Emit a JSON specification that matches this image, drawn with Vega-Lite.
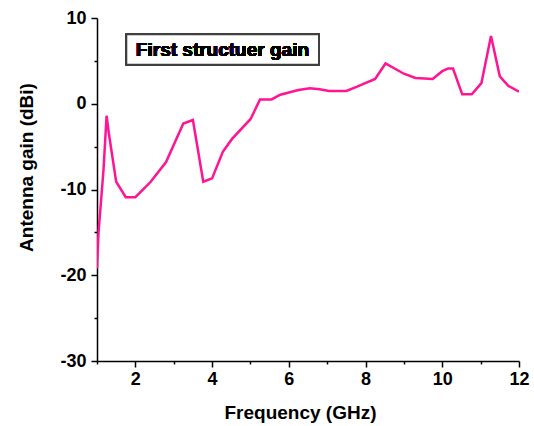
{
  "$schema": "https://vega.github.io/schema/vega-lite/v6.json",
  "width": 422,
  "height": 343,
  "autosize": {"type": "none"},
  "padding": {"left": 97, "top": 18, "right": 15, "bottom": 65},
  "background": "white",
  "config": {"view": {"stroke": null}, "font": "Liberation Sans"},
  "data": {
    "values": [
      {"f": 1.0, "g": -19.2},
      {"f": 1.04, "g": -15.0},
      {"f": 1.17, "g": -7.7},
      {"f": 1.25, "g": -1.4},
      {"f": 1.31, "g": -3.5},
      {"f": 1.5, "g": -9.1},
      {"f": 1.75, "g": -10.9},
      {"f": 2.0, "g": -10.9},
      {"f": 2.4, "g": -9.1},
      {"f": 2.8, "g": -6.8},
      {"f": 3.25, "g": -2.3},
      {"f": 3.5, "g": -1.9},
      {"f": 3.77, "g": -9.1},
      {"f": 4.0, "g": -8.7},
      {"f": 4.28, "g": -5.6},
      {"f": 4.52, "g": -4.1},
      {"f": 5.0, "g": -1.8},
      {"f": 5.25, "g": 0.5},
      {"f": 5.55, "g": 0.5},
      {"f": 5.78, "g": 1.05},
      {"f": 6.25, "g": 1.6},
      {"f": 6.55, "g": 1.8},
      {"f": 6.8, "g": 1.7},
      {"f": 7.05, "g": 1.5},
      {"f": 7.5, "g": 1.5},
      {"f": 7.78, "g": 2.0},
      {"f": 8.25, "g": 2.9},
      {"f": 8.52, "g": 4.7},
      {"f": 9.0, "g": 3.5},
      {"f": 9.3, "g": 3.0},
      {"f": 9.75, "g": 2.9},
      {"f": 10.0, "g": 3.8},
      {"f": 10.15, "g": 4.1},
      {"f": 10.28, "g": 4.1},
      {"f": 10.52, "g": 1.1},
      {"f": 10.77, "g": 1.1},
      {"f": 11.02, "g": 2.4},
      {"f": 11.27, "g": 7.9},
      {"f": 11.5, "g": 3.2},
      {"f": 11.72, "g": 2.1},
      {"f": 12.0, "g": 1.4}
    ]
  },
  "resolve": {"axis": {"x": "independent", "y": "independent"}},
  "layer": [
    {
      "mark": {"type": "line", "color": "#ff1493", "strokeWidth": 2.5, "clip": true},
      "encoding": {
        "x": {
          "field": "f",
          "type": "quantitative",
          "scale": {"domain": [1, 12], "nice": false, "zero": false},
          "axis": {
            "orient": "bottom",
            "values": [2, 4, 6, 8, 10, 12],
            "tickSize": 6,
            "labelPadding": 3,
            "labelFlush": false,
            "labelOverlap": false,
            "grid": false,
            "domainColor": "black",
            "domainWidth": 1.5,
            "tickColor": "black",
            "tickWidth": 1.5,
            "labelFont": "Liberation Sans",
            "labelFontSize": 18,
            "labelFontWeight": "bold",
            "labelColor": "black",
            "title": "Frequency (GHz)",
            "titleFont": "Liberation Sans",
            "titleFontSize": 19,
            "titleFontWeight": "bold",
            "titleColor": "black",
            "titleX": 203,
            "titleY": 57,
            "titleBaseline": "alphabetic",
            "titleAlign": "center"
          }
        },
        "y": {
          "field": "g",
          "type": "quantitative",
          "scale": {"domain": [-30, 10], "nice": false, "zero": false},
          "axis": {
            "orient": "left",
            "values": [-30, -20, -10, 0, 10],
            "labelExpr": "'' + datum.value",
            "tickSize": 6,
            "labelPadding": 5,
            "labelOverlap": false,
            "grid": false,
            "domainColor": "black",
            "domainWidth": 1.5,
            "tickColor": "black",
            "tickWidth": 1.5,
            "labelFont": "Liberation Sans",
            "labelFontSize": 18,
            "labelFontWeight": "bold",
            "labelColor": "black",
            "title": "Antenna gain (dBi)",
            "titleFont": "Liberation Sans",
            "titleFontSize": 19,
            "titleFontWeight": "bold",
            "titleColor": "black",
            "titleX": -71,
            "titleY": 149,
            "titleAngle": -90,
            "titleBaseline": "middle",
            "titleAlign": "center"
          }
        }
      }
    },
    {
      "mark": {"type": "rect", "fill": "white", "stroke": "#404040", "strokeWidth": 1.5},
      "encoding": {
        "x": {
          "datum": 1.77,
          "axis": {"orient": "bottom", "values": [1, 3, 5, 7, 9, 11], "tickSize": 3, "labels": false, "domain": false, "grid": false, "title": null, "tickColor": "black", "tickWidth": 1.5}
        },
        "x2": {"datum": 6.78},
        "y": {
          "datum": 8.07,
          "axis": {"orient": "left", "values": [-25, -15, -5, 5], "tickSize": 3, "labels": false, "domain": false, "grid": false, "title": null, "tickColor": "black", "tickWidth": 1.5}
        },
        "y2": {"datum": 4.57}
      }
    },
    {
      "mark": {"type": "text", "font": "Liberation Sans", "fontWeight": "bold", "fontSize": 19, "align": "center", "baseline": "middle", "color": "black"},
      "encoding": {
        "x": {"datum": 4.27, "axis": null},
        "y": {"datum": 6.32, "axis": null},
        "text": {"value": "First structuer gain"}
      }
    }
  ]
}
